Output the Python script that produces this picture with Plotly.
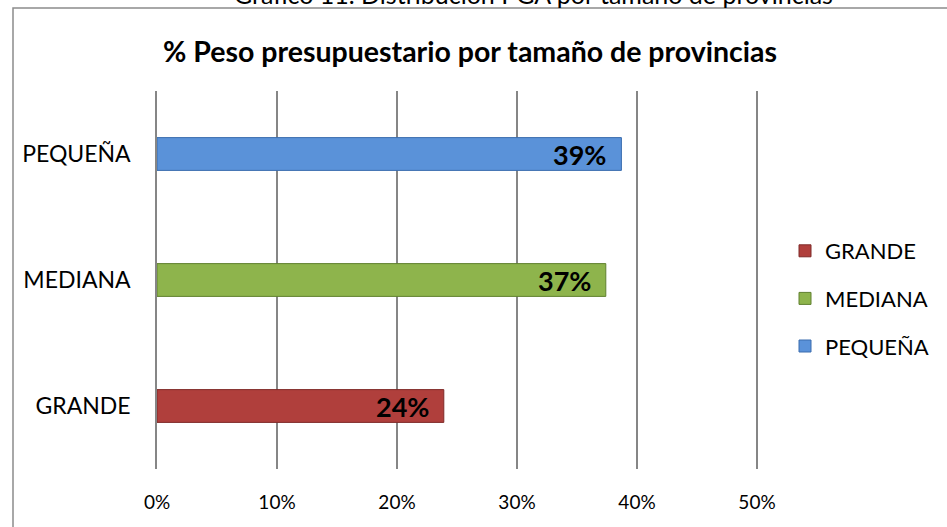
import plotly.graph_objects as go

categories = ["GRANDE", "MEDIANA", "PEQUEÑA"]
values = [23.9, 37.4, 38.7]
colors = ["#B03F3C", "#8EB44C", "#5A92D9"]
line_colors = ["#7F2A28", "#60802F", "#3A6CAE"]
x_ticks = [0, 10, 20, 30, 40, 50]
x_tick_labels = ["0%", "10%", "20%", "30%", "40%", "50%"]
title = "% Peso presupuestario por tamaño de provincias"
top_caption = "Gráfico 11. Distribución PGA por tamaño de provincias"

FONT = "Lato"

fig = go.Figure()
for cat, val, col, lc in zip(categories, values, colors, line_colors):
    fig.add_trace(go.Bar(
        x=[val], y=[cat], name=cat, orientation="h",
        marker=dict(color=col, line=dict(color=lc, width=1)),
        width=0.26,
        legendgroup=cat,
        hoverinfo="skip",
    ))

W, H = 947, 527
X_MAX = 50.5
L, T, B = 157, 91, 58
R = W - (L + 12 * X_MAX)
pw, ph = W - L - R, H - T - B

def px(x):
    return (x - L) / pw

def py(y):
    return (H - B - y) / ph

annotations = [
    dict(text=f"<b>{title}</b>", xref="paper", yref="paper",
         x=px(470), y=py(51), xanchor="center", yanchor="middle",
         showarrow=False, font=dict(family=FONT, size=28.5, color="black")),
    dict(text=top_caption, xref="paper", yref="paper",
         x=px(533), y=py(-6), xanchor="center", yanchor="middle",
         showarrow=False, font=dict(family=FONT, size=25, color="black")),
]
for cat, val in zip(categories, values):
    annotations.append(dict(
        text=f"<b>{val:.0f}%</b>", x=val, y=cat, xref="x", yref="y",
        xanchor="right", yanchor="middle", xshift=-13, showarrow=False,
        font=dict(family=FONT, size=27, color="black"),
    ))

fig.update_layout(
    width=W, height=H,
    margin=dict(l=L, r=R, t=T, b=B),
    paper_bgcolor="white", plot_bgcolor="white",
    barmode="overlay",
    font=dict(family=FONT, size=19, color="black"),
    showlegend=True,
    legend=dict(
        x=px(785), y=py(230), xanchor="left", yanchor="top",
        traceorder="grouped", tracegroupgap=16,
        font=dict(family=FONT, size=22, color="black"),
        itemwidth=30,
    ),
    xaxis=dict(
        range=[0, X_MAX], tickvals=x_ticks, ticktext=x_tick_labels,
        showgrid=True, gridcolor="#868686", gridwidth=1.5,
        zeroline=False, showline=False, ticks="", ticklabelstandoff=20,
        tickfont=dict(family=FONT, size=19, color="black"),
        fixedrange=True, automargin=False,
    ),
    yaxis=dict(
        categoryorder="array", categoryarray=categories,
        showline=True, linecolor="#868686", linewidth=1.5,
        showgrid=False, ticks="", ticklabelstandoff=20,
        tickfont=dict(family=FONT, size=23, color="black"),
        range=[-0.5, 2.5], fixedrange=True, automargin=False,
    ),
    shapes=[dict(
        type="rect", xref="paper", yref="paper",
        x0=px(13), x1=px(1000), y0=py(560), y1=py(8),
        line=dict(color="#8C8C8C", width=1.5), fillcolor="rgba(0,0,0,0)",
        layer="below",
    )],
    annotations=annotations,
)

fig.write_html("out.html", config={"displayModeBar": False},
               post_script="document.body.style.margin='0';")
